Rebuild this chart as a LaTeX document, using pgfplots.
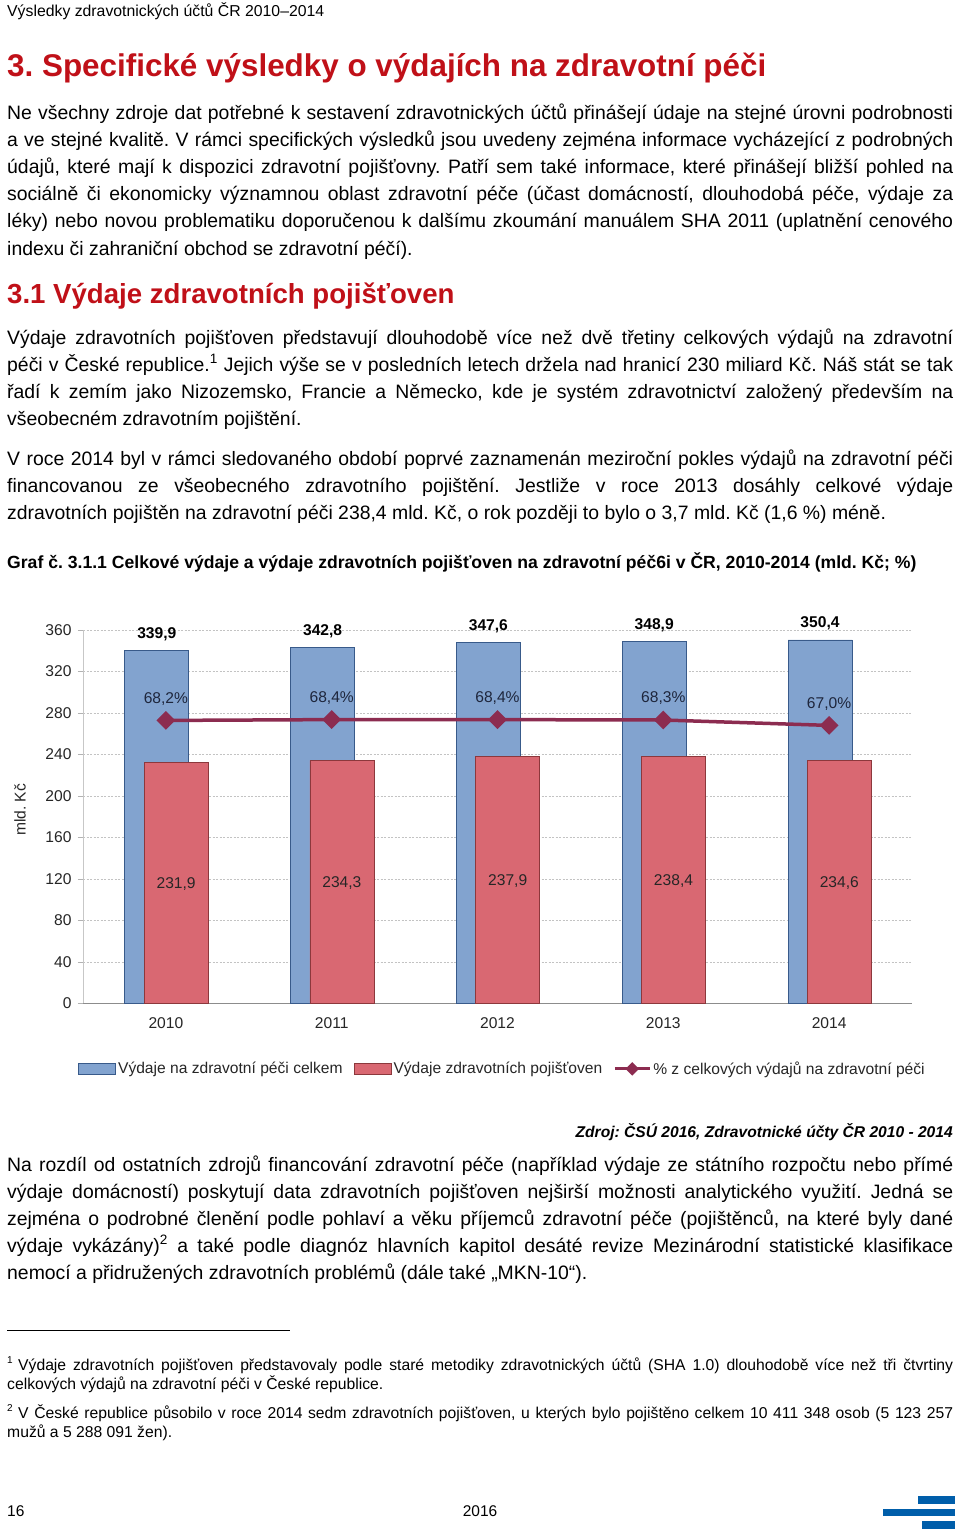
\documentclass[border=0pt]{standalone}
\usepackage{pgfplots}
\pgfplotsset{compat=1.18}
\usepackage{fontspec}
\setmainfont{Liberation Sans}
\frenchspacing
\definecolor{titlered}{RGB}{192,16,24}
\definecolor{barblue}{RGB}{130,163,207}
\definecolor{barblueedge}{RGB}{56,90,138}
\definecolor{barred}{RGB}{217,104,114}
\definecolor{barrededge}{RGB}{140,56,60}
\definecolor{linered}{RGB}{140,44,80}
\definecolor{gridgray}{RGB}{195,195,195}
\definecolor{logoblue}{RGB}{0,94,170}
\definecolor{pcttext}{RGB}{30,38,60}
\newcommand\bodyfont{\fontsize{19.4}{27}\selectfont}
\newcommand\chartfont{\fontsize{15.6}{18}\selectfont}
\newcommand\fnfont{\fontsize{15.7}{19}\selectfont}
\newcommand\bl[2]{\node[anchor=base west,font=\bodyfont,inner sep=0pt] at (7,#1) {\makebox[946pt][s]{#2}};}
\newcommand\blast[2]{\node[anchor=base west,font=\bodyfont,inner sep=0pt] at (7,#1) {#2};}
\pgfplotsset{
  mybarlegend/.style={legend image code/.code={\draw[##1] (0pt,-5.5pt) rectangle (37pt,5.5pt);}},
  mylinelegend/.style={legend image code/.code={\draw[##1,mark=none] (0pt,0pt) -- (35pt,0pt); \draw[##1] plot coordinates {(17.5pt,0pt)};}},
}
\begin{document}
\begin{tikzpicture}[x=1pt,y=-1pt]
\path[use as bounding box, fill=white] (0,0) rectangle (960,1530);
% header and titles
\node[anchor=base west,inner sep=0pt,font=\fontsize{15.8}{18}\selectfont] at (7,16.5) {Výsledky zdravotnických účtů ČR 2010–2014};
\node[anchor=base west,inner sep=0pt,font=\fontsize{31.4}{36}\selectfont\bfseries,text=titlered] at (7,77) {3. Specifické výsledky o výdajích na zdravotní péči};
\bl{120}{Ne všechny zdroje dat potřebné k sestavení zdravotnických účtů přinášejí údaje na stejné úrovni podrobnosti}
\bl{147}{a ve stejné kvalitě. V rámci specifických výsledků jsou uvedeny zejména informace vycházející z podrobných}
\bl{174}{údajů, které mají k dispozici zdravotní pojišťovny. Patří sem také informace, které přinášejí bližší pohled na}
\bl{201}{sociálně či ekonomicky významnou oblast zdravotní péče (účast domácností, dlouhodobá péče, výdaje za}
\bl{228}{léky) nebo novou problematiku doporučenou k dalšímu zkoumání manuálem SHA 2011 (uplatnění cenového}
\blast{255}{indexu či zahraniční obchod se zdravotní péčí).}
\node[anchor=base west,inner sep=0pt,font=\fontsize{27.6}{32}\selectfont\bfseries,text=titlered] at (7,303) {3.1 Výdaje zdravotních pojišťoven};
\bl{344}{Výdaje zdravotních pojišťoven představují dlouhodobě více než dvě třetiny celkových výdajů na zdravotní}
\bl{371}{péči v České republice.\textsuperscript{1} Jejich výše se v posledních letech držela nad hranicí 230 miliard Kč. Náš stát se tak}
\bl{398}{řadí k zemím jako Nizozemsko, Francie a Německo, kde je systém zdravotnictví založený především na}
\blast{425}{všeobecném zdravotním pojištění.}
\bl{465}{V roce 2014 byl v rámci sledovaného období poprvé zaznamenán meziroční pokles výdajů na zdravotní péči}
\bl{492}{financovanou ze všeobecného zdravotního pojištění. Jestliže v roce 2013 dosáhly celkové výdaje}
\blast{519}{zdravotních pojištěn na zdravotní péči 238,4 mld. Kč, o rok později to bylo o 3,7 mld. Kč (1,6 \%) méně.}
\node[anchor=base west,inner sep=0pt,font=\fontsize{17.6}{20}\selectfont\bfseries] at (7,568) {Graf č. 3.1.1 Celkové výdaje a výdaje zdravotních pojišťoven na zdravotní péč6i v ČR, 2010-2014 (mld. Kč; \%)};
% source and following text
\node[anchor=base east,inner sep=0pt,font=\fontsize{15.6}{18}\selectfont\bfseries\itshape] at (953,1137) {Zdroj: ČSÚ 2016, Zdravotnické účty ČR 2010 - 2014};
\bl{1171}{Na rozdíl od ostatních zdrojů financování zdravotní péče (například výdaje ze státního rozpočtu nebo přímé}
\bl{1198}{výdaje domácností) poskytují data zdravotních pojišťoven nejširší možnosti analytického využití. Jedná se}
\bl{1225}{zejména o podrobné členění podle pohlaví a věku příjemců zdravotní péče (pojištěnců, na které byly dané}
\bl{1252}{výdaje vykázány)\textsuperscript{2} a také podle diagnóz hlavních kapitol desáté revize Mezinárodní statistické klasifikace}
\blast{1279}{nemocí a přidružených zdravotních problémů (dále také „MKN-10“).}
\draw[black, line width=0.9pt] (7,1330) -- (290,1330);
\node[anchor=base west,inner sep=0pt,font=\fontsize{10}{12}\selectfont] at (7,1363) {1};
\node[anchor=base west,inner sep=0pt,font=\fnfont] at (18,1370) {\makebox[935pt][s]{Výdaje zdravotních pojišťoven představovaly podle staré metodiky zdravotnických účtů (SHA 1.0) dlouhodobě více než tři čtvrtiny}};
\node[anchor=base west,inner sep=0pt,font=\fnfont] at (7,1389) {celkových výdajů na zdravotní péči v České republice.};
\node[anchor=base west,inner sep=0pt,font=\fontsize{10}{12}\selectfont] at (7,1411) {2};
\node[anchor=base west,inner sep=0pt,font=\fnfont] at (18,1418) {\makebox[935pt][s]{V České republice působilo v roce 2014 sedm zdravotních pojišťoven, u kterých bylo pojištěno celkem 10 411 348 osob (5 123 257}};
\node[anchor=base west,inner sep=0pt,font=\fnfont] at (7,1437) {mužů a 5 288 091 žen).};
% footer
\node[anchor=base west,inner sep=0pt,font=\fontsize{15.5}{18}\selectfont] at (7,1516) {16};
\node[anchor=base,inner sep=0pt,font=\fontsize{15.5}{18}\selectfont] at (480,1516) {2016};
\fill[logoblue] (918,1496) rectangle (955,1503.5);
\fill[logoblue] (883,1508.5) rectangle (955,1516);
\fill[logoblue] (922,1521) rectangle (955,1528.5);
% chart
\begin{axis}[
  at={(83pt,-1003.3pt)}, anchor=south west,
  scale only axis, width=829pt, height=373.3pt,
  xmin=-0.5, xmax=4.5, ymin=0, ymax=360,
  xtick={0,1,2,3,4}, xticklabels={2010,2011,2012,2013,2014},
  ytick={0,40,...,360},
  axis x line*=bottom, axis y line*=left,
  x axis line style={draw=black!45, -},
  y axis line style={draw=black!22, -},
  tick align=outside,
  major x tick style={draw=none},
  major y tick style={draw=black!30},
  major tick length=5pt,
  ymajorgrids, grid style={gridgray, dash pattern=on 2pt off 1.5pt},
  tick label style={font=\chartfont, text=black!85},
  xticklabel style={yshift=-6pt},
  yticklabel style={xshift=-3pt},
  /pgf/number format/assume math mode=true,
  ylabel={mld. Kč},
  ylabel style={font=\chartfont, text=black!85, at={(axis description cs:-0.076,0.518)}, anchor=center},
  legend columns=3,
  legend style={at={(axis description cs:-0.0095,-0.1755)}, anchor=west, draw=none, fill=none,
    font=\chartfont, text=black!85, /tikz/every even column/.append style={column sep=9pt}},
  clip=false,
]
\addplot[ybar, bar width=64pt, bar shift=-9.1pt, fill=barblue, draw=barblueedge, line width=0.8pt,
  mybarlegend,
  point meta=y,
  nodes near coords={\pgfmathprintnumber[fixed,fixed zerofill,precision=1,use comma]{\pgfplotspointmeta}},
  nodes near coords style={font=\chartfont\bfseries, text=black, anchor=base, xshift=-9.1pt, yshift=12pt}]
  coordinates {(0,339.9) (1,342.8) (2,347.6) (3,348.9) (4,350.4)};
\addlegendentry{Výdaje na zdravotní péči celkem}
\addplot[ybar, bar width=64pt, bar shift=10.2pt, fill=barred, draw=barrededge, line width=0.8pt,
  mybarlegend,
  point meta=y,
  visualization depends on=y \as \rawy,
  nodes near coords={\pgfmathprintnumber[fixed,fixed zerofill,precision=1,use comma]{\pgfplotspointmeta}},
  nodes near coords style={font=\chartfont, text=black!85, anchor=base, xshift=10.2pt, yshift={-(0.51852*\rawy+5.6)*1pt}}]
  coordinates {(0,231.9) (1,234.3) (2,237.9) (3,238.4) (4,234.6)};
\addlegendentry{Výdaje zdravotních pojišťoven}
\addlegendimage{linered, line width=3pt, mark=square*, mark size=3.3pt, mark options={rotate=45}, mylinelegend}
\addlegendentry{\% z celkových výdajů na zdravotní péči}
\end{axis}
\begin{axis}[
  at={(83pt,-1003.3pt)}, anchor=south west,
  scale only axis, width=829pt, height=373.3pt,
  xmin=-0.5, xmax=4.5, ymin=0, ymax=90,
  hide axis, clip=false,
  /pgf/number format/assume math mode=true,
]
\addplot[linered, line width=3.5pt, mark=square*, mark size=4.9pt, mark options={rotate=45},
  point meta=y,
  nodes near coords={\pgfmathprintnumber[fixed,fixed zerofill,precision=1,use comma]{\pgfplotspointmeta}\%},
  nodes near coords style={font=\chartfont, text=pcttext, anchor=base, yshift=17.4pt}]
  coordinates {(0,68.2) (1,68.4) (2,68.4) (3,68.3) (4,67.0)};
\end{axis}
\end{tikzpicture}
\end{document}
